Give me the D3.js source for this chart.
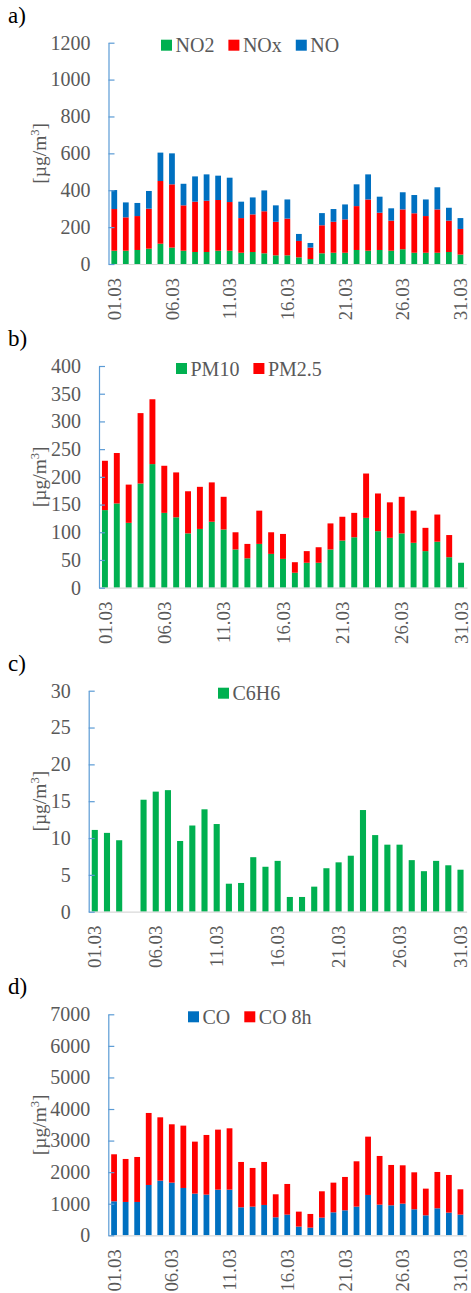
<!DOCTYPE html>
<html>
<head>
<meta charset="utf-8">
<script src="https://cdn.jsdelivr.net/npm/d3@7"></script>
<style>
  body { margin: 0; background: #fff; }
  svg text { font-family: "Liberation Serif", "Times New Roman", Tinos, serif; }
</style>
</head>
<body>
<div id="chart"></div>
<script>
var days = ["01.03","02.03","03.03","04.03","05.03","06.03","07.03","08.03","09.03","10.03",
  "11.03","12.03","13.03","14.03","15.03","16.03","17.03","18.03","19.03","20.03",
  "21.03","22.03","23.03","24.03","25.03","26.03","27.03","28.03","29.03","30.03","31.03"];
var tickDays = ["01.03","06.03","11.03","16.03","21.03","26.03","31.03"];

// a) stacked segments
var no2 = [72,72,76,83,110,89,72,65,65,72,72,61,65,58,47,47,36,27,58,61,61,76,72,76,72,80,61,61,61,65,51];
var nox = [226,181,184,217,340,343,246,273,278,275,264,188,204,228,182,199,89,62,152,168,181,238,278,202,163,216,214,199,235,170,139];
var no = [103,81,71,96,154,168,117,137,143,132,132,89,92,113,89,104,38,25,66,69,81,118,136,87,67,93,99,90,120,70,59];

// b)
var pm10 = [140,152,117,188,223,135,127,98,106,119,105,69,53,79,61,52,27,45,45,69,85,91,126,102,90,98,81,66,83,55,45];
var pm25 = [89,91,69,127,117,85,81,76,76,71,59,31,26,60,39,45,19,21,28,47,43,44,80,68,64,66,58,42,49,40,0];

// c)
var c6h6 = [11.1,10.7,9.7,0,15.2,16.3,16.5,9.6,11.7,13.9,11.9,3.8,3.9,7.4,6.1,6.9,2.0,2.0,3.4,5.9,6.7,7.6,13.8,10.4,9.1,9.1,7.0,5.5,6.9,6.3,5.7];

// d)
var co = [1077,1056,1056,1594,1731,1668,1499,1320,1288,1446,1446,887,908,961,570,655,275,243,560,728,792,908,1278,971,950,1003,824,633,855,718,655];
var co8h = [1489,1362,1425,2281,2006,1848,1975,1647,1890,1901,1943,1436,1225,1362,729,971,475,433,834,940,1056,1436,1847,1542,1278,1214,1171,845,1151,1193,802];

var green = "#00B050", red = "#FF0000", blue = "#0070C0";
var serif = "'Liberation Serif', 'Times New Roman', Tinos, serif";

var svg = d3.select("#chart").append("svg")
  .attr("width", 471)
  .attr("height", 1293);

function graph(opt) {
  var keys = opt.series.map(function(s) { return s.name; });
  var rows = days.map(function(d, i) {
    var r = {day: d};
    opt.series.forEach(function(s) { r[s.name] = s.values[i]; });
    return r;
  });
  var layers = d3.stack().keys(keys)(rows);

  var x = d3.scaleBand()
    .domain(days)
    .range([opt.left, opt.right])
    .paddingInner(0.5)
    .paddingOuter(0.25);

  var y = d3.scaleLinear()
    .domain([0, opt.max])
    .range([opt.bottom, opt.top]);

  var g = svg.append("g").attr("font-family", serif);

  // panel letter
  g.append("text")
    .attr("x", 8)
    .attr("y", opt.top - 20)
    .style("font-size", "23px")
    .attr("fill", "#000")
    .text(opt.label);

  // bars
  g.selectAll(".layer")
    .data(layers)
    .enter().append("g")
    .attr("class", "layer")
    .attr("fill", function(d, i) { return opt.series[i].color; })
    .selectAll("rect")
    .data(function(d) { return d; })
    .enter().append("rect")
    .attr("x", function(d) { return x(d.data.day); })
    .attr("width", x.bandwidth())
    .attr("y", function(d) { return y(d[1]); })
    .attr("height", function(d) { return y(d[0]) - y(d[1]); });

  // x axis
  var xAxis = d3.axisBottom(x).tickValues(tickDays).tickSize(0).tickSizeOuter(0);
  var xg = g.append("g")
    .attr("transform", "translate(0," + opt.bottom + ")")
    .call(xAxis)
    .attr("font-family", serif);
  xg.select(".domain").attr("stroke", "#D9D9D9").attr("stroke-width", 1.2);
  xg.selectAll("text")
    .attr("transform", "rotate(-90)")
    .attr("x", -14)
    .attr("y", 0)
    .attr("dy", "0.35em")
    .style("text-anchor", "end")
    .style("font-size", "18.8px")
    .attr("fill", "#595959");

  // y axis
  var yAxis = d3.axisLeft(y)
    .tickValues(d3.range(0, opt.max + opt.step / 2, opt.step))
    .tickFormat(d3.format("d"))
    .tickSizeInner(-6)
    .tickSizeOuter(0)
    .tickPadding(18);
  var yg = g.append("g")
    .attr("transform", "translate(" + opt.left + ",0)")
    .call(yAxis)
    .attr("font-family", serif);
  yg.select(".domain").attr("stroke", "#5B9BD5").attr("stroke-width", 1.2);
  yg.selectAll(".tick line").attr("stroke", "#5B9BD5").attr("stroke-width", 1.2);
  yg.selectAll("text")
    .style("font-size", "20px")
    .attr("fill", "#595959");

  // y label
  var yl = g.append("text")
    .attr("transform", "translate(46," + (opt.top + opt.bottom) / 2 + ") rotate(-90)")
    .style("text-anchor", "middle")
    .style("font-size", "19.5px")
    .attr("fill", "#595959");
  yl.append("tspan").text("[µg/m");
  yl.append("tspan").attr("dy", -7).style("font-size", "12.5px").text("3");
  yl.append("tspan").attr("dy", 7).text("]");

  // legend
  var lx = opt.legendX;
  opt.series.forEach(function(s) {
    g.append("rect")
      .attr("x", lx)
      .attr("y", opt.top - 3)
      .attr("width", 11)
      .attr("height", 11)
      .attr("fill", s.color);
    var t = g.append("text")
      .attr("x", lx + 14.5)
      .attr("y", opt.top + 9.5)
      .style("font-size", "20px")
      .attr("fill", "#595959")
      .text(s.name);
    lx = lx + 14.5 + t.node().getComputedTextLength() + 14;
  });
}

graph({label: "a)", left: 108.5, right: 466.2, top: 42.7, bottom: 264, max: 1200, step: 200, legendX: 161,
  series: [{name: "NO2", values: no2, color: green}, {name: "NOx", values: nox, color: red}, {name: "NO", values: no, color: blue}]});

graph({label: "b)", left: 99, right: 467, top: 366, bottom: 587.7, max: 400, step: 50, legendX: 176,
  series: [{name: "PM10", values: pm10, color: green}, {name: "PM2.5", values: pm25, color: red}]});

graph({label: "c)", left: 88.7, right: 466.6, top: 690.7, bottom: 911.7, max: 30, step: 5, legendX: 218,
  series: [{name: "C6H6", values: c6h6, color: green}]});

graph({label: "d)", left: 108.3, right: 466.2, top: 1014.3, bottom: 1235.3, max: 7000, step: 1000, legendX: 188,
  series: [{name: "CO", values: co, color: blue}, {name: "CO 8h", values: co8h, color: red}]});
</script>
</body>
</html>
